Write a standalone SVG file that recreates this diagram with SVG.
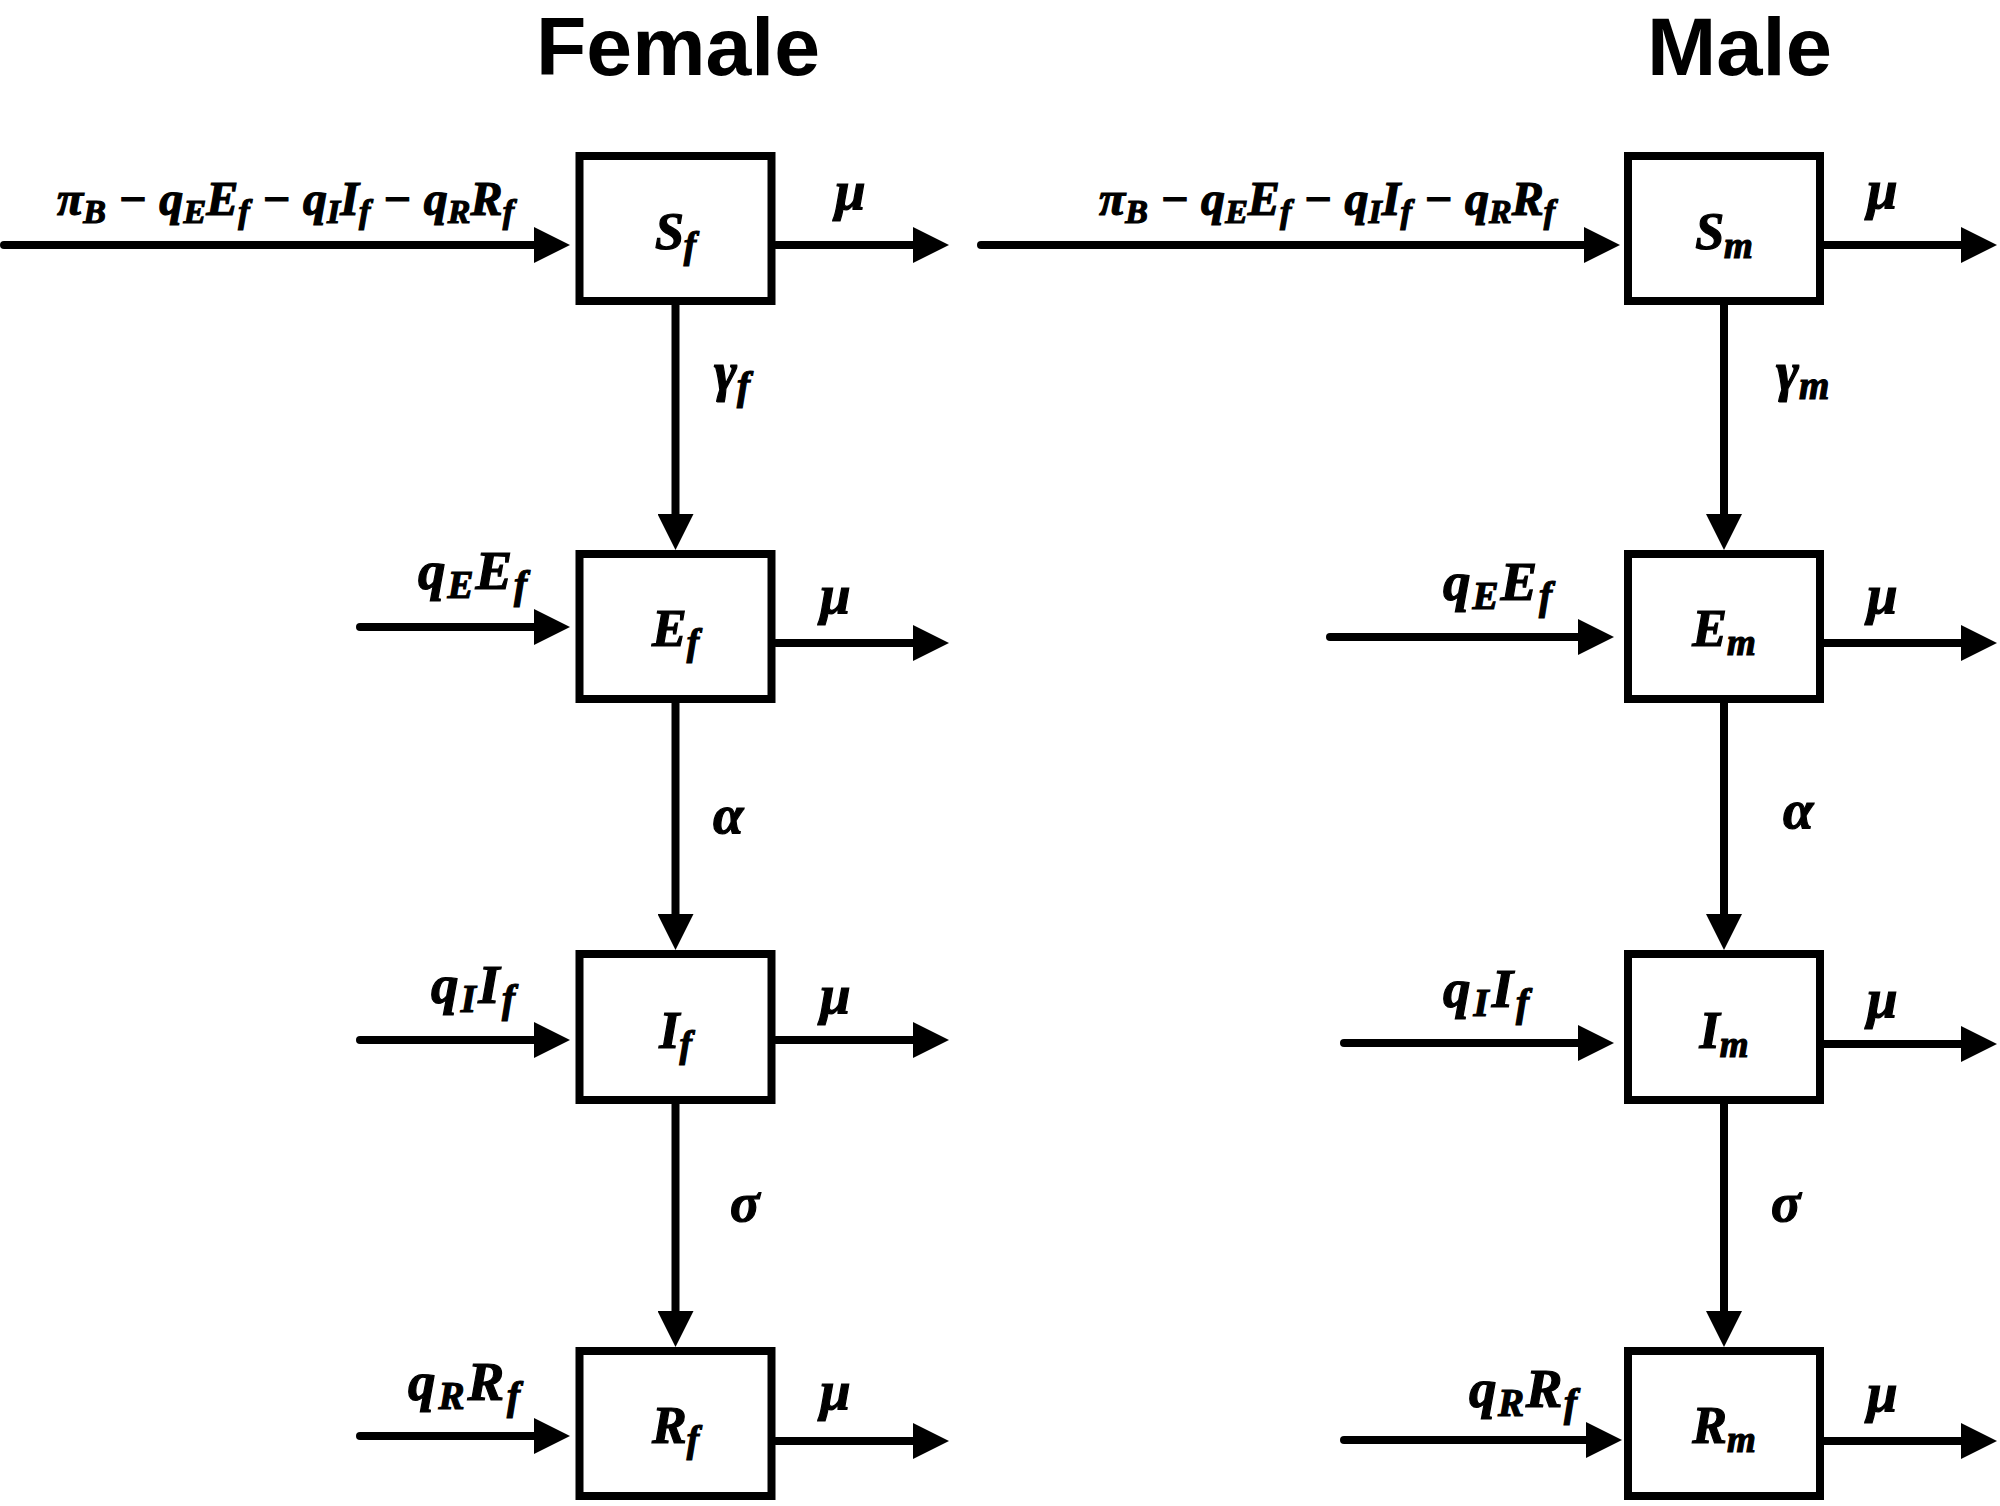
<svg xmlns="http://www.w3.org/2000/svg" width="2000" height="1506" viewBox="0 0 2000 1506">
<style>
.title{font-family:"Liberation Sans",Arial,sans-serif;font-weight:bold;font-size:82px;fill:#000}
.m{font-family:"Liberation Serif","Times New Roman",serif;font-weight:bold;font-style:italic;fill:#000;stroke:#000;stroke-width:1.2px}
.fm{font-size:48px}
.fs{font-size:34px}
.lb{font-size:55px}
.ls{font-size:39px}
.bx{font-size:52px}
.bs{font-size:37px}
.box{fill:#fff;stroke:#000;stroke-width:8}
.ln{stroke:#000;stroke-width:8;fill:none;stroke-linecap:round;marker-end:url(#ah)}
</style>
<defs>
<marker id="ah" markerUnits="userSpaceOnUse" markerWidth="36" markerHeight="36" viewBox="0 0 36 36" refX="2" refY="18" orient="auto"><path d="M0,0 L36,18 L0,36 z" fill="#000"/></marker>
</defs>
<rect width="2000" height="1506" fill="#fff"/>
<g id="titles">
<text class="title" x="536" y="75" textLength="284" lengthAdjust="spacingAndGlyphs">Female</text>
<text class="title" x="1647" y="75" textLength="185" lengthAdjust="spacingAndGlyphs">Male</text>
</g>
<g id="connectors">
<line class="ln" x1="4" y1="245" x2="536" y2="245"/>
<line class="ln" x1="776" y1="245" x2="915" y2="245"/>
<line class="ln" x1="360" y1="627" x2="536" y2="627"/>
<line class="ln" x1="776" y1="643" x2="915" y2="643"/>
<line class="ln" x1="360" y1="1040" x2="536" y2="1040"/>
<line class="ln" x1="776" y1="1040" x2="915" y2="1040"/>
<line class="ln" x1="360" y1="1436" x2="536" y2="1436"/>
<line class="ln" x1="776" y1="1441" x2="915" y2="1441"/>
<line class="ln" x1="675.5" y1="305" x2="675.5" y2="516"/>
<line class="ln" x1="675.5" y1="703" x2="675.5" y2="916"/>
<line class="ln" x1="675.5" y1="1104" x2="675.5" y2="1313"/>
<line class="ln" x1="981" y1="245" x2="1586" y2="245"/>
<line class="ln" x1="1824" y1="245" x2="1963" y2="245"/>
<line class="ln" x1="1330" y1="637" x2="1580" y2="637"/>
<line class="ln" x1="1824" y1="643" x2="1963" y2="643"/>
<line class="ln" x1="1344" y1="1043" x2="1580" y2="1043"/>
<line class="ln" x1="1824" y1="1044" x2="1963" y2="1044"/>
<line class="ln" x1="1344" y1="1440" x2="1588" y2="1440"/>
<line class="ln" x1="1824" y1="1441" x2="1963" y2="1441"/>
<line class="ln" x1="1724" y1="305" x2="1724" y2="516"/>
<line class="ln" x1="1724" y1="703" x2="1724" y2="916"/>
<line class="ln" x1="1724" y1="1104" x2="1724" y2="1313"/>
</g>
<g id="Sf"><rect class="box" x="579.5" y="156" width="192" height="145"/><text class="m bx" x="675.5" y="249" text-anchor="middle">S<tspan class="bs" dy="9">f</tspan></text></g>
<g id="Ef"><rect class="box" x="579.5" y="554" width="192" height="145"/><text class="m bx" x="675.5" y="646" text-anchor="middle">E<tspan class="bs" dy="9">f</tspan></text></g>
<g id="If"><rect class="box" x="579.5" y="954" width="192" height="146"/><text class="m bx" x="675.5" y="1048" text-anchor="middle">I<tspan class="bs" dy="9">f</tspan></text></g>
<g id="Rf"><rect class="box" x="579.5" y="1351" width="192" height="145"/><text class="m bx" x="675.5" y="1443" text-anchor="middle">R<tspan class="bs" dy="9">f</tspan></text></g>
<g id="Sm"><rect class="box" x="1628" y="156" width="192" height="145"/><text class="m bx" x="1724" y="249" text-anchor="middle">S<tspan class="bs" dy="9">m</tspan></text></g>
<g id="Em"><rect class="box" x="1628" y="554" width="192" height="145"/><text class="m bx" x="1724" y="646" text-anchor="middle">E<tspan class="bs" dy="9">m</tspan></text></g>
<g id="Im"><rect class="box" x="1628" y="954" width="192" height="146"/><text class="m bx" x="1724" y="1048" text-anchor="middle">I<tspan class="bs" dy="9">m</tspan></text></g>
<g id="Rm"><rect class="box" x="1628" y="1351" width="192" height="145"/><text class="m bx" x="1724" y="1443" text-anchor="middle">R<tspan class="bs" dy="9">m</tspan></text></g>
<g id="labels">
<text class="m fm" x="57" y="215" textLength="457" lengthAdjust="spacing">π<tspan class="fs" dy="8">B</tspan><tspan dy="-8"> − q</tspan><tspan class="fs" dy="8">E</tspan><tspan dy="-8">E</tspan><tspan class="fs" dy="8">f</tspan><tspan dy="-8"> − q</tspan><tspan class="fs" dy="8">I</tspan><tspan dy="-8">I</tspan><tspan class="fs" dy="8">f</tspan><tspan dy="-8"> − q</tspan><tspan class="fs" dy="8">R</tspan><tspan dy="-8">R</tspan><tspan class="fs" dy="8">f</tspan></text>
<text class="m fm" x="1099" y="215" textLength="456" lengthAdjust="spacing">π<tspan class="fs" dy="8">B</tspan><tspan dy="-8"> − q</tspan><tspan class="fs" dy="8">E</tspan><tspan dy="-8">E</tspan><tspan class="fs" dy="8">f</tspan><tspan dy="-8"> − q</tspan><tspan class="fs" dy="8">I</tspan><tspan dy="-8">I</tspan><tspan class="fs" dy="8">f</tspan><tspan dy="-8"> − q</tspan><tspan class="fs" dy="8">R</tspan><tspan dy="-8">R</tspan><tspan class="fs" dy="8">f</tspan></text>
<text class="m lb" x="418" y="589" textLength="109" lengthAdjust="spacing">q<tspan class="ls" dy="9">E</tspan><tspan dy="-9">E</tspan><tspan class="ls" dy="9">f</tspan></text>
<text class="m lb" x="1443" y="600" textLength="109" lengthAdjust="spacing">q<tspan class="ls" dy="9">E</tspan><tspan dy="-9">E</tspan><tspan class="ls" dy="9">f</tspan></text>
<text class="m lb" x="431" y="1003" textLength="84" lengthAdjust="spacing">q<tspan class="ls" dy="9">I</tspan><tspan dy="-9">I</tspan><tspan class="ls" dy="9">f</tspan></text>
<text class="m lb" x="1443" y="1007" textLength="86" lengthAdjust="spacing">q<tspan class="ls" dy="9">I</tspan><tspan dy="-9">I</tspan><tspan class="ls" dy="9">f</tspan></text>
<text class="m lb" x="408" y="1400" textLength="112" lengthAdjust="spacing">q<tspan class="ls" dy="9">R</tspan><tspan dy="-9">R</tspan><tspan class="ls" dy="9">f</tspan></text>
<text class="m lb" x="1469" y="1407" textLength="108" lengthAdjust="spacing">q<tspan class="ls" dy="9">R</tspan><tspan dy="-9">R</tspan><tspan class="ls" dy="9">f</tspan></text>
<text class="m lb" x="835" y="209">μ</text>
<text class="m lb" x="820" y="613">μ</text>
<text class="m lb" x="820" y="1013">μ</text>
<text class="m lb" x="820" y="1409">μ</text>
<text class="m lb" x="1867" y="208">μ</text>
<text class="m lb" x="1867" y="613">μ</text>
<text class="m lb" x="1867" y="1017">μ</text>
<text class="m lb" x="1867" y="1411">μ</text>
<text class="m lb" x="714" y="390">γ<tspan class="ls" dy="9">f</tspan></text>
<text class="m lb" x="1776" y="390">γ<tspan class="ls" dy="9">m</tspan></text>
<text class="m lb" x="713" y="833">α</text>
<text class="m lb" x="1783" y="828">α</text>
<text class="m lb" x="730" y="1221">σ</text>
<text class="m lb" x="1771" y="1221">σ</text>
</g>
</svg>
